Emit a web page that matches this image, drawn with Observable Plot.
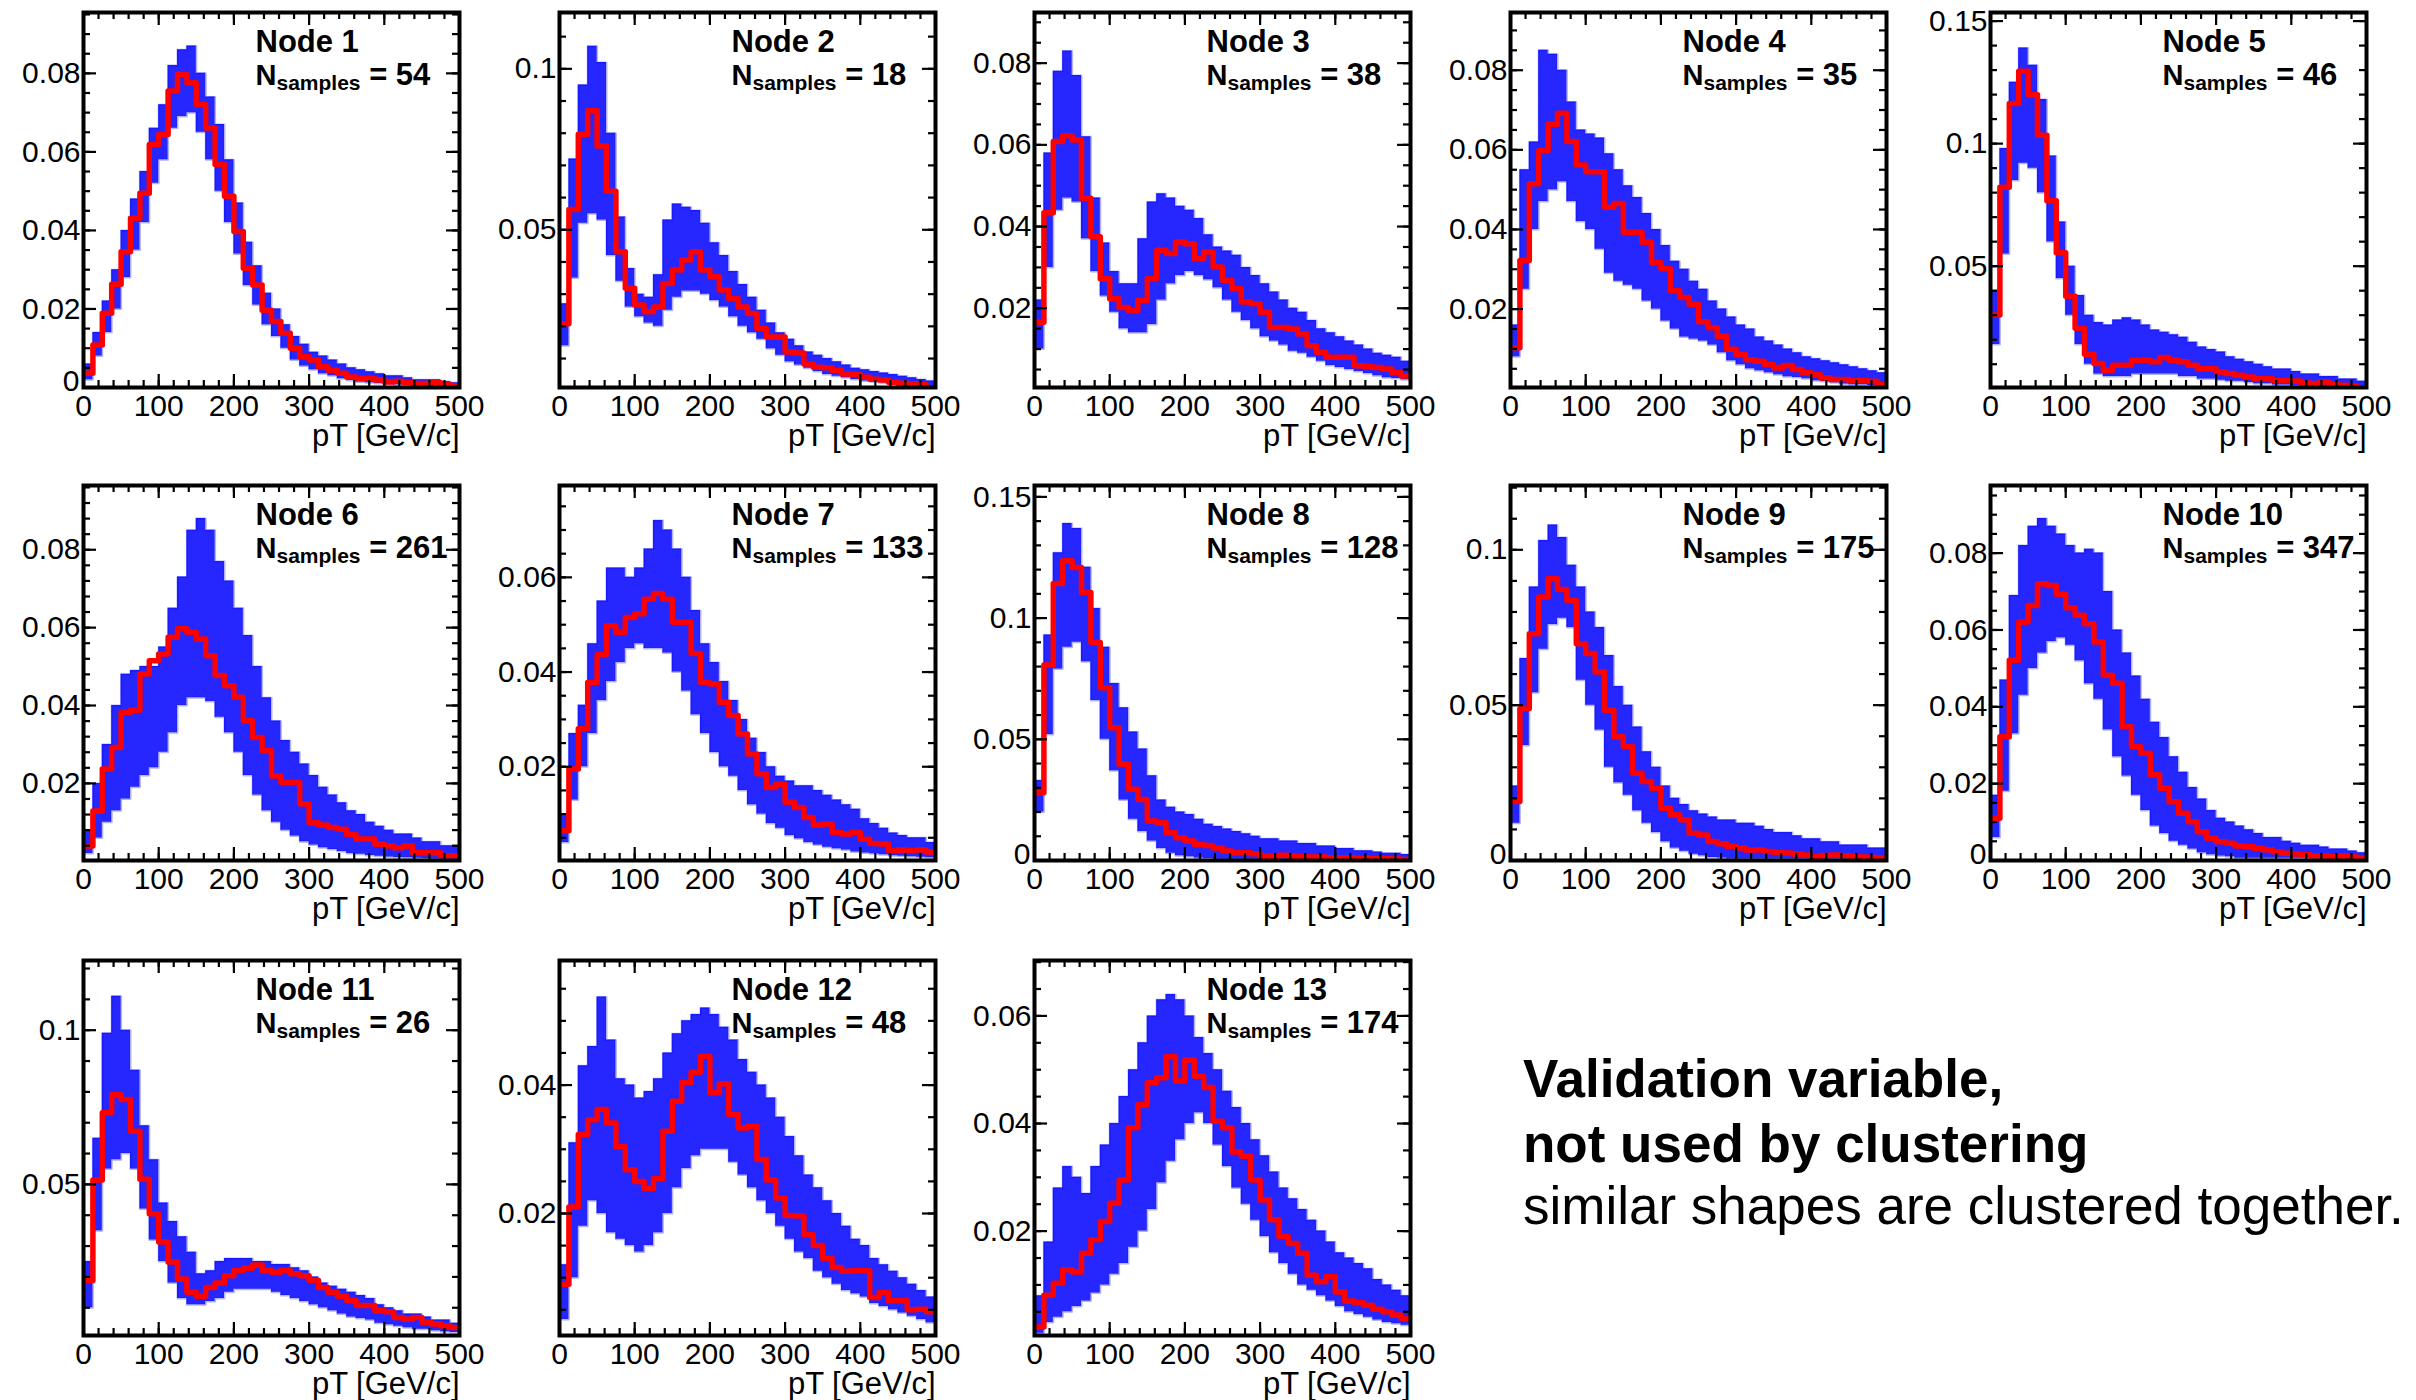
<!DOCTYPE html>
<html><head><meta charset="utf-8">
<script src="https://cdn.jsdelivr.net/npm/d3@7"></script>
<script src="https://cdn.jsdelivr.net/npm/@observablehq/plot@0.6"></script>
<style>
body{margin:0;background:#fff;}
#root{position:relative;width:2416px;height:1400px;overflow:hidden;background:#fff;}
.panel{position:absolute;}
.panel svg{overflow:visible;max-width:none!important;}
.note{position:absolute;left:1523px;font-family:"Liberation Sans",Arial,Helvetica,sans-serif;font-size:53px;line-height:53px;color:#000;white-space:nowrap;}
</style></head><body><div id="root"></div>
<script>
// ---------- data ----------
const binEdges = [0,12.5,25,37.5,50,62.5,75,87.5,100,112.5,125,137.5,150,162.5,175,187.5,200,212.5,225,237.5,250,262.5,275,287.5,300,312.5,325,337.5,350,362.5,375,387.5,400,412.5,425,437.5,450,462.5,475,487.5,500];
const xTickLabels = [0,100,200,300,400,500];
const xMinorTicks = [20,40,60,80,100,120,140,160,180,200,220,240,260,280,300,320,340,360,380,400,420,440,460,480];
const xTitle = "pT [GeV/c]";
const nodeNames = ["Node 1","Node 2","Node 3","Node 4","Node 5","Node 6","Node 7","Node 8","Node 9","Node 10","Node 11","Node 12","Node 13"];
const nSamples = [54,18,38,35,46,261,133,128,175,347,26,48,174];
const yDomains = [[0,0.0955],[0.001,0.1175],[0.0006,0.0924],[0.0003,0.0945],[0.0005,0.1535],[0.0002,0.0965],[0.0002,0.0794],[0,0.1547],[0,0.1207],[0,0.0976],[0.001,0.1226],[0.001,0.0594],[0.0006,0.0703]];
const yTickLabels = [[0,0.02,0.04,0.06,0.08],[0.05,0.1],[0.02,0.04,0.06,0.08],[0.02,0.04,0.06,0.08],[0.05,0.1,0.15],[0.02,0.04,0.06,0.08],[0.02,0.04,0.06],[0,0.05,0.1,0.15],[0,0.05,0.1],[0,0.02,0.04,0.06,0.08],[0.05,0.1],[0.02,0.04],[0.02,0.04,0.06]];
const yMinorStep = [0.005,0.01,0.005,0.005,0.01,0.004,0.005,0.01,0.01,0.005,0.01,0.005,0.005];
const noteLines = ["Validation variable,","not used by clustering","similar shapes are clustered together."];

// mean (red) per node
const mean1 = [0.0036,0.0108,0.0189,0.0263,0.0346,0.0431,0.0495,0.0619,0.0644,0.0755,0.0797,0.0776,0.0721,0.0661,0.0568,0.0487,0.0397,0.0304,0.0261,0.0197,0.0168,0.0138,0.0100,0.0078,0.0070,0.0053,0.0044,0.0036,0.0027,0.0023,0.0023,0.0019,0.0014,0.0016,0.0013,0.0010,0.0010,0.0012,0.0008,0.0004];
const mean2 = [0.0208,0.0563,0.0797,0.0870,0.0760,0.0620,0.0432,0.0318,0.0266,0.0245,0.0260,0.0333,0.0375,0.0406,0.0432,0.0375,0.0354,0.0313,0.0286,0.0260,0.0240,0.0193,0.0167,0.0167,0.0120,0.0117,0.0083,0.0073,0.0071,0.0063,0.0052,0.0050,0.0042,0.0036,0.0033,0.0026,0.0023,0.0021,0.0019,0.0008];
const mean3 = [0.0166,0.0434,0.0608,0.0622,0.0612,0.0469,0.0375,0.0272,0.0223,0.0202,0.0194,0.0219,0.0272,0.0342,0.0334,0.0362,0.0358,0.0321,0.0338,0.0301,0.0268,0.0248,0.0215,0.0211,0.0190,0.0153,0.0153,0.0149,0.0137,0.0108,0.0092,0.0080,0.0080,0.0080,0.0059,0.0057,0.0055,0.0051,0.0043,0.0034];
const mean4 = [0.0103,0.0322,0.0515,0.0598,0.0664,0.0692,0.0621,0.0562,0.0545,0.0545,0.0456,0.0465,0.0393,0.0393,0.0368,0.0317,0.0301,0.0246,0.0229,0.0212,0.0168,0.0153,0.0132,0.0099,0.0086,0.0073,0.0069,0.0061,0.0052,0.0058,0.0048,0.0040,0.0035,0.0027,0.0023,0.0023,0.0020,0.0020,0.0019,0.0010];
const mean5 = [0.0301,0.0822,0.1164,0.1295,0.1199,0.1034,0.0767,0.0555,0.0377,0.0247,0.0141,0.0103,0.0075,0.0096,0.0096,0.0116,0.0116,0.0110,0.0127,0.0116,0.0110,0.0096,0.0082,0.0082,0.0068,0.0062,0.0055,0.0048,0.0041,0.0041,0.0034,0.0034,0.0032,0.0023,0.0021,0.0027,0.0018,0.0014,0.0010,0.0004];
const mean6 = [0.0039,0.0129,0.0237,0.0292,0.0382,0.0388,0.0481,0.0515,0.0532,0.0575,0.0597,0.0588,0.0571,0.0528,0.0477,0.0451,0.0421,0.0361,0.0318,0.0284,0.0219,0.0202,0.0202,0.0147,0.0099,0.0093,0.0087,0.0082,0.0069,0.0057,0.0057,0.0044,0.0039,0.0035,0.0039,0.0022,0.0022,0.0022,0.0014,0.0014];
const mean7 = [0.0065,0.0195,0.0280,0.0378,0.0437,0.0498,0.0484,0.0515,0.0523,0.0554,0.0566,0.0554,0.0505,0.0505,0.0439,0.0378,0.0375,0.0336,0.0308,0.0269,0.0227,0.0185,0.0156,0.0163,0.0125,0.0114,0.0093,0.0077,0.0079,0.0061,0.0058,0.0061,0.0047,0.0038,0.0037,0.0023,0.0024,0.0023,0.0024,0.0020];
const mean8 = [0.0280,0.0807,0.1143,0.1237,0.1209,0.1106,0.0899,0.0713,0.0548,0.0397,0.0294,0.0252,0.0163,0.0156,0.0114,0.0094,0.0080,0.0066,0.0062,0.0052,0.0039,0.0032,0.0032,0.0028,0.0018,0.0018,0.0022,0.0018,0.0015,0.0014,0.0014,0.0011,0.0011,0.0011,0.0008,0.0008,0.0007,0.0007,0.0006,0.0004];
const mean9 = [0.0190,0.0489,0.0730,0.0848,0.0907,0.0872,0.0837,0.0698,0.0666,0.0607,0.0484,0.0398,0.0366,0.0281,0.0254,0.0232,0.0168,0.0147,0.0131,0.0088,0.0082,0.0061,0.0054,0.0045,0.0040,0.0034,0.0034,0.0029,0.0026,0.0024,0.0021,0.0018,0.0013,0.0016,0.0018,0.0015,0.0013,0.0011,0.0010,0.0007];
const mean10 = [0.0110,0.0322,0.0521,0.0621,0.0664,0.0720,0.0716,0.0693,0.0658,0.0638,0.0616,0.0569,0.0482,0.0461,0.0348,0.0296,0.0279,0.0223,0.0188,0.0153,0.0123,0.0101,0.0075,0.0058,0.0049,0.0045,0.0038,0.0036,0.0032,0.0028,0.0023,0.0019,0.0017,0.0015,0.0012,0.0012,0.0010,0.0012,0.0009,0.0006];
const mean11 = [0.0188,0.0514,0.0732,0.0791,0.0775,0.0672,0.0517,0.0405,0.0313,0.0248,0.0193,0.0150,0.0137,0.0166,0.0180,0.0204,0.0221,0.0228,0.0239,0.0221,0.0215,0.0221,0.0210,0.0204,0.0188,0.0166,0.0150,0.0137,0.0123,0.0107,0.0107,0.0090,0.0087,0.0068,0.0063,0.0068,0.0052,0.0047,0.0041,0.0036];
const mean12 = [0.0090,0.0210,0.0323,0.0346,0.0362,0.0341,0.0304,0.0268,0.0250,0.0239,0.0254,0.0328,0.0375,0.0404,0.0420,0.0445,0.0388,0.0402,0.0354,0.0333,0.0336,0.0284,0.0252,0.0224,0.0197,0.0196,0.0167,0.0150,0.0130,0.0116,0.0110,0.0111,0.0111,0.0069,0.0077,0.0064,0.0064,0.0050,0.0051,0.0047];
const mean13 = [0.0022,0.0081,0.0103,0.0128,0.0124,0.0159,0.0184,0.0218,0.0252,0.0295,0.0392,0.0435,0.0476,0.0485,0.0524,0.0479,0.0518,0.0488,0.0467,0.0404,0.0392,0.0347,0.0339,0.0295,0.0258,0.0221,0.0190,0.0177,0.0159,0.0118,0.0106,0.0115,0.0087,0.0070,0.0067,0.0062,0.0055,0.0050,0.0044,0.0037];

// upper envelope of the sample histograms (blue)
const hi1 = [0.006,0.014,0.022,0.030,0.040,0.048,0.055,0.066,0.072,0.082,0.086,0.087,0.080,0.074,0.067,0.058,0.047,0.037,0.031,0.024,0.020,0.016,0.013,0.011,0.009,0.008,0.007,0.006,0.005,0.0045,0.004,0.0035,0.003,0.003,0.0025,0.002,0.002,0.002,0.0015,0.0012];
const hi2 = [0.027,0.072,0.095,0.107,0.102,0.080,0.054,0.038,0.030,0.029,0.036,0.053,0.058,0.057,0.056,0.052,0.046,0.042,0.037,0.033,0.029,0.025,0.021,0.018,0.016,0.014,0.012,0.011,0.010,0.009,0.008,0.007,0.0065,0.006,0.0055,0.005,0.0045,0.004,0.0035,0.003];
const hi3 = [0.022,0.058,0.078,0.083,0.077,0.062,0.047,0.036,0.029,0.026,0.026,0.037,0.046,0.048,0.047,0.045,0.044,0.042,0.038,0.035,0.034,0.033,0.030,0.028,0.026,0.024,0.022,0.020,0.019,0.017,0.015,0.014,0.013,0.012,0.011,0.010,0.009,0.0085,0.008,0.007];
const hi4 = [0.016,0.055,0.062,0.085,0.084,0.080,0.072,0.065,0.064,0.063,0.059,0.055,0.051,0.048,0.044,0.040,0.036,0.032,0.030,0.027,0.025,0.022,0.020,0.018,0.016,0.015,0.013,0.012,0.011,0.010,0.009,0.008,0.0075,0.007,0.0065,0.006,0.0055,0.005,0.0045,0.004];
const hi5 = [0.040,0.098,0.125,0.139,0.132,0.118,0.095,0.068,0.050,0.038,0.030,0.027,0.026,0.028,0.029,0.028,0.026,0.024,0.023,0.022,0.021,0.019,0.017,0.016,0.015,0.013,0.012,0.011,0.010,0.009,0.008,0.008,0.007,0.006,0.006,0.005,0.005,0.004,0.004,0.003];
const hi6 = [0.008,0.020,0.030,0.040,0.048,0.049,0.050,0.050,0.055,0.065,0.073,0.085,0.088,0.085,0.077,0.072,0.065,0.058,0.050,0.042,0.036,0.031,0.028,0.025,0.022,0.019,0.017,0.015,0.013,0.012,0.010,0.009,0.008,0.007,0.007,0.006,0.005,0.005,0.004,0.004];
const hi7 = [0.010,0.027,0.033,0.046,0.055,0.062,0.062,0.060,0.062,0.066,0.072,0.070,0.066,0.060,0.053,0.046,0.042,0.038,0.034,0.030,0.026,0.023,0.020,0.018,0.017,0.016,0.016,0.015,0.014,0.013,0.012,0.011,0.009,0.008,0.007,0.006,0.0055,0.005,0.005,0.004];
const hi8 = [0.033,0.093,0.127,0.139,0.137,0.121,0.104,0.088,0.073,0.063,0.053,0.046,0.035,0.025,0.022,0.020,0.019,0.017,0.015,0.014,0.013,0.012,0.011,0.010,0.009,0.009,0.008,0.008,0.007,0.007,0.006,0.006,0.005,0.005,0.004,0.004,0.0035,0.003,0.003,0.0025];
const hi9 = [0.024,0.065,0.088,0.103,0.108,0.104,0.095,0.088,0.080,0.075,0.066,0.056,0.050,0.043,0.035,0.030,0.024,0.020,0.018,0.016,0.015,0.014,0.013,0.013,0.012,0.012,0.011,0.010,0.009,0.009,0.008,0.007,0.007,0.006,0.006,0.005,0.005,0.005,0.004,0.004];
const hi10 = [0.017,0.047,0.069,0.082,0.087,0.089,0.087,0.085,0.082,0.080,0.081,0.080,0.070,0.060,0.054,0.048,0.042,0.036,0.032,0.027,0.023,0.019,0.016,0.013,0.011,0.010,0.009,0.008,0.007,0.006,0.006,0.005,0.0045,0.004,0.004,0.0035,0.003,0.003,0.0025,0.002];
const hi11 = [0.025,0.065,0.099,0.111,0.100,0.087,0.069,0.058,0.044,0.038,0.033,0.028,0.021,0.022,0.025,0.026,0.026,0.026,0.025,0.025,0.024,0.024,0.023,0.022,0.020,0.018,0.017,0.016,0.015,0.014,0.013,0.011,0.010,0.009,0.008,0.008,0.007,0.006,0.006,0.005];
const hi12 = [0.012,0.031,0.043,0.046,0.0537,0.047,0.041,0.040,0.038,0.039,0.041,0.045,0.048,0.050,0.051,0.052,0.051,0.049,0.047,0.044,0.042,0.040,0.038,0.035,0.032,0.029,0.026,0.024,0.022,0.020,0.018,0.016,0.015,0.013,0.012,0.011,0.010,0.009,0.008,0.007];
const hi13 = [0.008,0.018,0.028,0.032,0.030,0.027,0.032,0.036,0.040,0.045,0.050,0.055,0.060,0.063,0.064,0.063,0.060,0.056,0.053,0.050,0.046,0.043,0.040,0.037,0.034,0.031,0.028,0.026,0.024,0.022,0.020,0.018,0.016,0.015,0.014,0.013,0.011,0.010,0.009,0.008];

// lower envelope of the sample histograms (blue)
const lo1 = [0.002,0.008,0.014,0.020,0.028,0.035,0.042,0.052,0.058,0.066,0.069,0.070,0.065,0.058,0.050,0.042,0.034,0.026,0.021,0.016,0.013,0.010,0.007,0.0055,0.0045,0.0035,0.003,0.0022,0.0018,0.0014,0.0012,0.001,0.0008,0.0007,0.0006,0.0005,0.0004,0.0004,0.0003,0.0002];
const lo2 = [0.014,0.035,0.052,0.055,0.053,0.042,0.034,0.026,0.023,0.021,0.020,0.025,0.029,0.031,0.031,0.030,0.028,0.026,0.023,0.020,0.018,0.016,0.013,0.011,0.009,0.008,0.007,0.006,0.005,0.0045,0.004,0.0035,0.003,0.0028,0.0025,0.002,0.0018,0.0015,0.0013,0.0012];
const lo3 = [0.010,0.030,0.044,0.047,0.046,0.037,0.029,0.023,0.019,0.015,0.014,0.014,0.016,0.022,0.026,0.028,0.029,0.028,0.027,0.025,0.022,0.019,0.017,0.015,0.013,0.012,0.011,0.0095,0.009,0.008,0.007,0.006,0.0055,0.005,0.0045,0.004,0.0035,0.003,0.0028,0.0025];
const lo4 = [0.008,0.025,0.040,0.047,0.050,0.052,0.047,0.042,0.040,0.035,0.029,0.027,0.026,0.025,0.022,0.020,0.017,0.015,0.013,0.0125,0.012,0.011,0.009,0.007,0.006,0.005,0.0045,0.004,0.0035,0.003,0.0028,0.0025,0.002,0.0018,0.0015,0.0012,0.001,0.001,0.0008,0.0006];
const lo5 = [0.018,0.055,0.085,0.092,0.090,0.080,0.060,0.045,0.030,0.018,0.010,0.006,0.005,0.005,0.005,0.006,0.006,0.006,0.006,0.006,0.005,0.005,0.004,0.004,0.0035,0.003,0.003,0.0025,0.002,0.002,0.0015,0.0015,0.0012,0.001,0.001,0.001,0.0008,0.0007,0.0006,0.0005];
const lo6 = [0.002,0.006,0.010,0.013,0.016,0.019,0.022,0.024,0.028,0.033,0.040,0.042,0.042,0.041,0.037,0.033,0.028,0.022,0.017,0.013,0.010,0.008,0.0065,0.005,0.0042,0.0035,0.003,0.0025,0.002,0.0018,0.0015,0.0013,0.0011,0.001,0.0009,0.0008,0.0007,0.0006,0.0005,0.0005];
const lo7 = [0.004,0.013,0.020,0.027,0.034,0.038,0.042,0.045,0.046,0.045,0.045,0.044,0.040,0.036,0.031,0.027,0.023,0.020,0.018,0.015,0.012,0.010,0.008,0.007,0.0055,0.0048,0.004,0.0035,0.003,0.0027,0.0024,0.002,0.0018,0.0016,0.0014,0.0012,0.0011,0.001,0.0009,0.0008];
const lo8 = [0.020,0.052,0.079,0.088,0.090,0.082,0.066,0.050,0.037,0.025,0.017,0.012,0.008,0.005,0.003,0.002,0.0015,0.001,0.0008,0.0005,0.0005,0.0005,0.0005,0.0005,0.0005,0.0005,0.0005,0.0005,0.0005,0.0005,0.0005,0.0005,0.0005,0.0005,0.0005,0.0005,0.0005,0.0005,0.0005,0.0005];
const lo9 = [0.012,0.037,0.054,0.068,0.076,0.078,0.075,0.058,0.050,0.042,0.030,0.025,0.021,0.016,0.012,0.009,0.006,0.004,0.003,0.002,0.0015,0.001,0.0008,0.0005,0.0005,0.0005,0.0005,0.0005,0.0005,0.0005,0.0005,0.0005,0.0005,0.0005,0.0005,0.0005,0.0005,0.0005,0.0005,0.0005];
const lo10 = [0.006,0.018,0.033,0.043,0.050,0.054,0.057,0.058,0.056,0.052,0.046,0.042,0.034,0.027,0.022,0.017,0.013,0.009,0.007,0.005,0.004,0.003,0.002,0.0015,0.0012,0.001,0.0006,0.0006,0.0006,0.0006,0.0006,0.0006,0.0006,0.0006,0.0006,0.0006,0.0006,0.0006,0.0006,0.0006];
const lo11 = [0.010,0.035,0.055,0.058,0.060,0.055,0.042,0.032,0.025,0.018,0.013,0.011,0.011,0.012,0.013,0.015,0.016,0.016,0.016,0.016,0.015,0.014,0.013,0.012,0.011,0.010,0.009,0.008,0.007,0.0065,0.006,0.005,0.0045,0.004,0.0035,0.003,0.003,0.0025,0.0022,0.002];
const lo12 = [0.0035,0.010,0.018,0.022,0.020,0.017,0.016,0.015,0.014,0.015,0.017,0.020,0.024,0.027,0.029,0.030,0.030,0.030,0.028,0.026,0.024,0.022,0.020,0.018,0.016,0.014,0.013,0.011,0.010,0.009,0.008,0.0075,0.007,0.006,0.0055,0.005,0.0045,0.004,0.0035,0.003];
const lo13 = [0.001,0.003,0.004,0.005,0.006,0.007,0.0085,0.010,0.012,0.014,0.017,0.020,0.024,0.029,0.033,0.037,0.040,0.042,0.040,0.036,0.032,0.028,0.025,0.022,0.019,0.016,0.014,0.012,0.010,0.009,0.008,0.007,0.006,0.005,0.0045,0.004,0.0035,0.003,0.0028,0.0025];

const means = [mean1,mean2,mean3,mean4,mean5,mean6,mean7,mean8,mean9,mean10,mean11,mean12,mean13];
const his = [hi1,hi2,hi3,hi4,hi5,hi6,hi7,hi8,hi9,hi10,hi11,hi12,hi13];
const los = [lo1,lo2,lo3,lo4,lo5,lo6,lo7,lo8,lo9,lo10,lo11,lo12,lo13];

// ---------- layout ----------
const colLefts = [83, 559, 1034, 1510, 1990];
const rowTops = [12, 485, 960];
const frameW = 376, frameH = 375;
const mL = 83, mT = 12, mR = 30, mB = 64;
const panelFont = "'Liberation Sans', Arial, Helvetica, sans-serif";

function minorTicks(domain, step) {
  const out = [];
  for (let k = 0; k * step <= domain[1] + 1e-9; k++) {
    const v = +(k * step).toFixed(5);
    if (v >= domain[0]) out.push(v);
  }
  return out;
}

function makePanel(i) {
  const mean = means[i], hi = his[i], lo = los[i];
  const data = binEdges.map((x, k) => {
    const j = Math.min(k, mean.length - 1);
    return {x, m: mean[j], hi: hi[j], lo: lo[j]};
  });
  const dom = yDomains[i];
  const yMin = minorTicks(dom, yMinorStep[i]);
  const yMaj = yTickLabels[i];
  const yMajNonZero = yMaj.filter(v => v !== 0);
  const yZero = yMaj.filter(v => v === 0);
  const tickStyle = {stroke: "black", strokeWidth: 2.2};
  const majLen = 13, minLen = 7;
  const svg = Plot.plot({
    width: mL + frameW + mR,
    height: mT + frameH + mB,
    marginLeft: mL, marginRight: mR, marginTop: mT, marginBottom: mB,
    x: {domain: [0, 500]},
    y: {domain: dom},
    style: {fontFamily: panelFont, background: "transparent", color: "black", overflow: "visible"},
    marks: [
      Plot.areaY(data, {x: "x", y1: "lo", y2: "hi", curve: "step-after", fill: "#0000ff", fillOpacity: 0.85, clip: true}),
      Plot.line(data, {x: "x", y: "hi", curve: "step-after", stroke: "#0000ff", strokeOpacity: 0.3, strokeWidth: 2, clip: true}),
      Plot.line(data, {x: "x", y: "lo", curve: "step-after", stroke: "#0000ff", strokeOpacity: 0.3, strokeWidth: 2, clip: true}),
      Plot.line(data, {x: "x", y: "m", curve: "step-after", stroke: "#ff0000", strokeWidth: 5.5, clip: true}),
      // inward ROOT-style ticks on four sides
      Plot.tickX(xMinorTicks, {x: d => d, insetTop: frameH - minLen, ...tickStyle}),
      Plot.tickX(xMinorTicks, {x: d => d, insetBottom: frameH - minLen, ...tickStyle}),
      Plot.tickX(xTickLabels, {x: d => d, insetTop: frameH - majLen, ...tickStyle}),
      Plot.tickX(xTickLabels, {x: d => d, insetBottom: frameH - majLen, ...tickStyle}),
      Plot.tickY(yMin, {y: d => d, insetRight: frameW - minLen, ...tickStyle}),
      Plot.tickY(yMin, {y: d => d, insetLeft: frameW - minLen, ...tickStyle}),
      Plot.tickY(yMaj, {y: d => d, insetRight: frameW - majLen, ...tickStyle}),
      Plot.tickY(yMaj, {y: d => d, insetLeft: frameW - majLen, ...tickStyle}),
      Plot.frame({stroke: "black", strokeWidth: 4}),
      Plot.axisX({ticks: xTickLabels, tickSize: 0, tickPadding: 7, fontSize: 30, label: null, tickFormat: d => String(d)}),
      Plot.axisY({ticks: yMajNonZero, tickSize: 0, tickPadding: 3, fontSize: 30, label: null, tickFormat: d => String(d)}),
      ...(yZero.length ? [Plot.axisY({ticks: yZero, tickSize: 0, tickPadding: 4, dy: -6, fontSize: 30, label: null, tickFormat: d => String(d)})] : []),
      Plot.text([xTitle], {text: d => d, frameAnchor: "bottom-right", dy: 58, lineAnchor: "bottom", textAnchor: "end", fontSize: 31}),
      Plot.text([nodeNames[i]], {text: d => d, frameAnchor: "top-left", dx: 172, dy: 39, lineAnchor: "bottom", textAnchor: "start", fontSize: 31, fontWeight: "bold"}),
      Plot.text(["N_samples"], {text: d => d, frameAnchor: "top-left", dx: 172, dy: 72, lineAnchor: "bottom", textAnchor: "start", fontSize: 29, fontWeight: "bold"})
    ]
  });
  // build the subscript label as real text with tspans
  const ns = "http://www.w3.org/2000/svg";
  const t = [...svg.querySelectorAll("text")].find(e => e.textContent === "N_samples");
  if (t) {
    t.textContent = "";
    t.setAttribute("style", "white-space:pre");
    const a = document.createElementNS(ns, "tspan"); a.textContent = "N";
    const b = document.createElementNS(ns, "tspan"); b.textContent = "samples"; b.setAttribute("font-size", "21"); b.setAttribute("dy", "5");
    const c = document.createElementNS(ns, "tspan"); c.textContent = " = " + nSamples[i]; c.setAttribute("font-size", "31"); c.setAttribute("dy", "-5");
    t.append(a, b, c);
  }
  return svg;
}

const root = document.getElementById("root");
for (let i = 0; i < 13; i++) {
  const row = Math.floor(i / 5), col = i % 5;
  const div = document.createElement("div");
  div.className = "panel";
  div.style.left = (colLefts[col] - mL) + "px";
  div.style.top = (rowTops[row] - mT) + "px";
  div.style.width = (mL + frameW + mR) + "px";
  div.appendChild(makePanel(i));
  root.appendChild(div);
}
const noteTops = [1052, 1117, 1179];
noteLines.forEach((s, k) => {
  const d = document.createElement("div");
  d.className = "note";
  d.style.top = noteTops[k] + "px";
  d.style.fontWeight = k < 2 ? "bold" : "normal";
  d.textContent = s;
  root.appendChild(d);
});
</script></body></html>
